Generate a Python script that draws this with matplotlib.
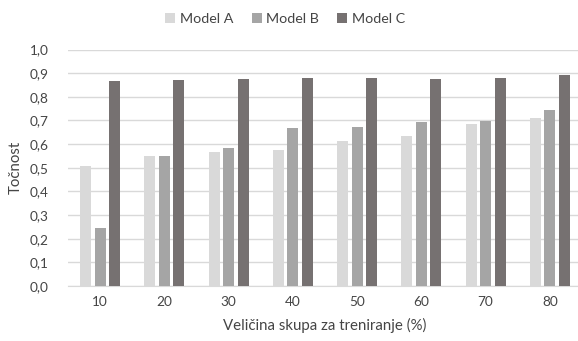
import numpy as np
import matplotlib
matplotlib.use("Agg")
import matplotlib.pyplot as plt

# training set size (%) and accuracy of each model
sizes = ["10", "20", "30", "40", "50", "60", "70", "80"]
model_a = [0.508, 0.551, 0.568, 0.573, 0.614, 0.636, 0.684, 0.712]
model_b = [0.244, 0.551, 0.583, 0.668, 0.674, 0.692, 0.699, 0.744]
model_c = [0.866, 0.870, 0.877, 0.881, 0.880, 0.876, 0.880, 0.894]
yticks = [0.0, 0.1, 0.2, 0.3, 0.4, 0.5, 0.6, 0.7, 0.8, 0.9, 1.0]

plt.rcParams["font.family"] = ["Lato", "DejaVu Sans"]
txt = "#454545"

fig = plt.figure(figsize=(5.78, 3.41), dpi=100)
ax = fig.add_axes([68 / 578, 1 - 286 / 341, 514 / 578, 236.5 / 341])

x = np.arange(len(sizes))
w = 0.17
step = 0.227
ax.bar(x - step, model_a, w, color="#d9d9d9", label="Model A", zorder=3)
ax.bar(x, model_b, w, color="#a5a5a5", label="Model B", zorder=3)
ax.bar(x + step, model_c, w, color="#767171", label="Model C", zorder=3)

ax.set_xlim(-0.5, len(sizes) - 0.5)
ax.set_ylim(0, 1.0)
ax.set_yticks(yticks)
ax.set_yticklabels([f"{v:.1f}".replace(".", ",") for v in yticks])
ax.set_xticks(x)
ax.set_xticklabels(sizes)
ax.yaxis.grid(True, color="#d9d9d9", linewidth=1, zorder=0)
ax.set_axisbelow(True)
for s in ["top", "right", "left"]:
    ax.spines[s].set_visible(False)
ax.spines["bottom"].set_color("#d9d9d9")
ax.tick_params(axis="both", length=0, labelsize=9.8, colors=txt)
ax.tick_params(axis="x", pad=7)
ax.tick_params(axis="y", pad=14)

ax.set_xlabel("Veličina skupa za treniranje (%)", fontsize=10.8, color=txt, labelpad=7)
ax.set_ylabel("Točnost", fontsize=10.8, color=txt, labelpad=5)

fig.legend(loc="upper center", bbox_to_anchor=(285 / 578, 1.0), ncol=3, frameon=False,
           fontsize=10.3, handlelength=0.7, handleheight=0.7, handletextpad=0.3,
           columnspacing=1.3, labelcolor=txt)

fig.savefig("out.png", dpi=100)
